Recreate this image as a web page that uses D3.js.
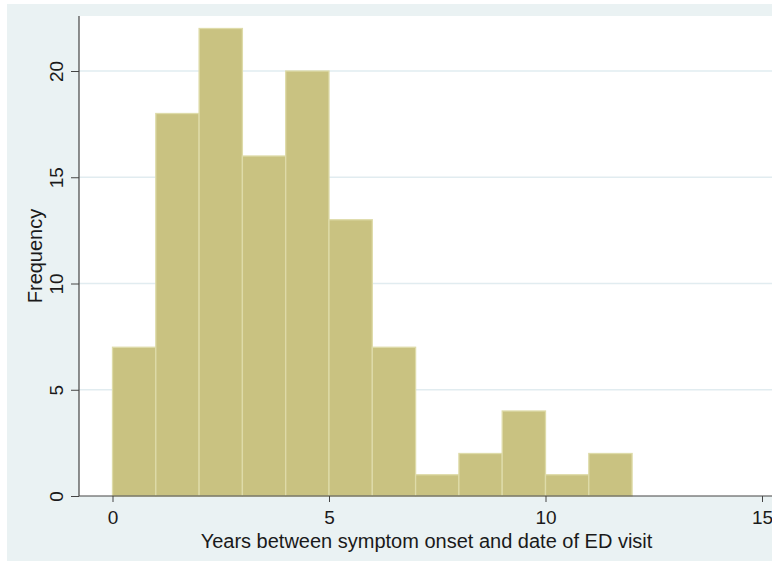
<!DOCTYPE html>
<html>
<head>
<meta charset="utf-8">
<script src="https://cdn.jsdelivr.net/npm/d3@7"></script>
<style>
  html, body { margin: 0; padding: 0; background: #ffffff; }
  svg { display: block; }
  text { font-family: "Liberation Sans", Arial, sans-serif; fill: #1a1a1a; }
</style>
</head>
<body>
<svg id="chart" width="772" height="561"></svg>
<script>
// Histogram bins (years, width 1) and their frequencies
const binStarts = [0, 1, 2, 3, 4, 5, 6, 7, 8, 9, 10, 11];
const binWidth = 1;
const frequencies = [7, 18, 22, 16, 20, 13, 7, 1, 2, 4, 1, 2];
const xTicks = [0, 5, 10, 15];
const yTicks = [0, 5, 10, 15, 20];
const xTitle = "Years between symptom onset and date of ED visit";
const yTitle = "Frequency";

const svg = d3.select("#chart");
const W = 772, H = 561;

// graph region background
svg.append("rect")
  .attr("x", 7).attr("y", 4)
  .attr("width", W - 7).attr("height", H - 4)
  .attr("fill", "#eaf2f3");

const plot = { left: 79, top: 16, right: 772, bottom: 496 };

svg.append("rect")
  .attr("x", plot.left).attr("y", plot.top)
  .attr("width", plot.right - plot.left).attr("height", plot.bottom - plot.top)
  .attr("fill", "#ffffff");

const x = d3.scaleLinear().domain([0, 15]).range([112.5, 762]);
const y = d3.scaleLinear().domain([0, 20]).range([plot.bottom, 71]);

// horizontal grid lines
svg.append("g")
  .selectAll("line")
  .data(yTicks.filter(d => d > 0))
  .join("line")
  .attr("x1", plot.left).attr("x2", plot.right)
  .attr("y1", d => y(d)).attr("y2", d => y(d))
  .attr("stroke", "#e1ecf0")
  .attr("stroke-width", 1.3);

// bars
const bins = binStarts.map((s, i) => ({ x0: s, x1: s + binWidth, n: frequencies[i] }));
svg.append("g")
  .selectAll("rect")
  .data(bins)
  .join("rect")
  .attr("x", d => x(d.x0))
  .attr("y", d => y(d.n))
  .attr("width", d => x(d.x1) - x(d.x0))
  .attr("height", d => y(0) - y(d.n))
  .attr("fill", "#c9c281")
  .attr("stroke", "#dedba9")
  .attr("stroke-width", 1.3);

// x axis
const xAxis = d3.axisBottom(x).tickValues(xTicks).tickSize(6).tickPadding(9).tickSizeOuter(0);
const gx = svg.append("g")
  .attr("transform", `translate(0,${plot.bottom})`)
  .call(xAxis);
gx.select(".domain").remove();
gx.append("line")
  .attr("x1", plot.left).attr("x2", plot.right)
  .attr("stroke", "#444").attr("stroke-width", 1.2);
gx.selectAll(".tick line").attr("stroke", "#444");
gx.selectAll(".tick text")
  .style("font-size", "19px")
  .style("font-family", "Liberation Sans, Arial, sans-serif")
  .attr("fill", "#1a1a1a");

// y axis
const yAxis = d3.axisLeft(y).tickValues(yTicks).tickSize(8).tickPadding(0).tickSizeOuter(0);
const gy = svg.append("g")
  .attr("transform", `translate(${plot.left},0)`)
  .call(yAxis);
gy.select(".domain").remove();
gy.append("line")
  .attr("y1", plot.top).attr("y2", plot.bottom)
  .attr("stroke", "#444").attr("stroke-width", 1.2);
gy.selectAll(".tick line").attr("stroke", "#444");
gy.selectAll(".tick text")
  .attr("x", 0).attr("dy", null)
  .attr("transform", "translate(-23,0) rotate(-90)")
  .attr("text-anchor", "middle")
  .attr("dominant-baseline", "central")
  .style("font-size", "19px")
  .style("font-family", "Liberation Sans, Arial, sans-serif")
  .attr("fill", "#1a1a1a");

// axis titles
svg.append("text")
  .attr("x", (plot.left + plot.right) / 2 + 1)
  .attr("y", 548)
  .attr("text-anchor", "middle")
  .style("font-size", "20px")
  .text(xTitle);

svg.append("text")
  .attr("transform", `translate(42,${(plot.top + plot.bottom) / 2}) rotate(-90)`)
  .attr("text-anchor", "middle")
  .style("font-size", "20px")
  .text(yTitle);
</script>
</body>
</html>
